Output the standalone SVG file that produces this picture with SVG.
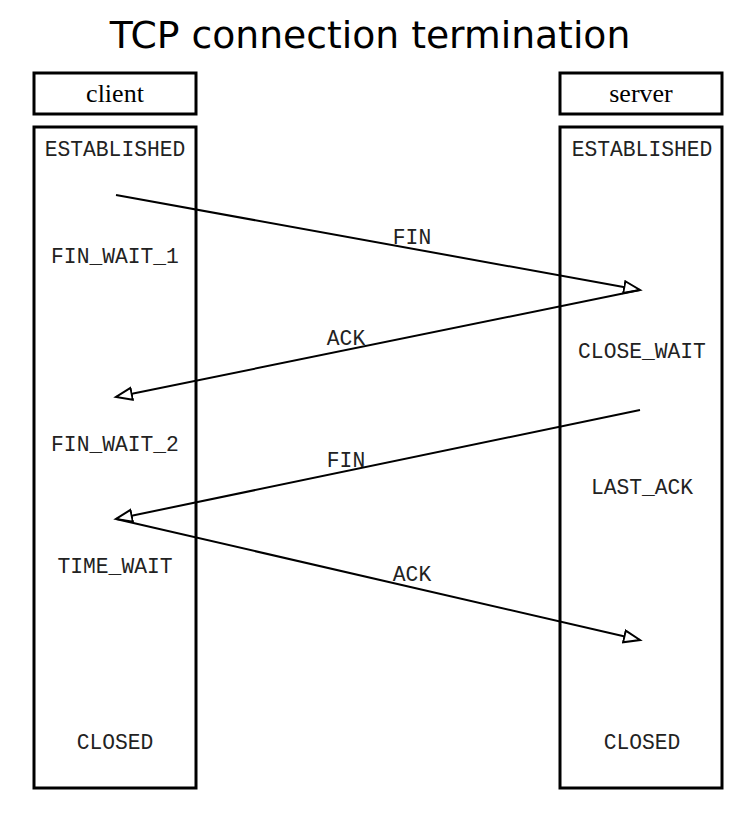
<svg xmlns="http://www.w3.org/2000/svg" width="755" height="814" viewBox="0 0 755 814">
<style>
.box{fill:#fff;stroke:#000;stroke-width:3}
.lbl{font-family:"Liberation Serif",serif;font-size:26px;text-anchor:middle}
.st{font-family:"Liberation Mono",monospace;font-size:21.3px;text-anchor:middle;fill:#222}
.msg{stroke:#000;stroke-width:2;fill:none;marker-end:url(#arr)}
.title{font-family:"DejaVu Sans",sans-serif;font-size:37.7px;text-anchor:middle}
</style>
<defs>
<marker id="arr" markerWidth="20" markerHeight="16" refX="17" refY="7" orient="auto" markerUnits="userSpaceOnUse">
<path d="M1,1 L17,7 L1,13 Z" fill="#fff" stroke="#000" stroke-width="2"/>
</marker>
</defs>
<rect width="755" height="814" fill="#fff"/>
<text class="title" x="370" y="48">TCP connection termination</text>
<g id="client">
<rect class="box" x="34" y="73" width="162" height="41"/>
<text class="lbl" x="115" y="102">client</text>
<rect class="box" x="34" y="127" width="162" height="661"/>
<text class="st" x="115" y="156">ESTABLISHED</text>
<text class="st" x="115" y="263">FIN_WAIT_1</text>
<text class="st" x="115" y="451">FIN_WAIT_2</text>
<text class="st" x="115" y="573">TIME_WAIT</text>
<text class="st" x="115" y="749">CLOSED</text>
</g>
<g id="server">
<rect class="box" x="560" y="73" width="162" height="41"/>
<text class="lbl" x="641" y="102">server</text>
<rect class="box" x="560" y="127" width="162" height="661"/>
<text class="st" x="642" y="156">ESTABLISHED</text>
<text class="st" x="642" y="358">CLOSE_WAIT</text>
<text class="st" x="642" y="494">LAST_ACK</text>
<text class="st" x="642" y="749">CLOSED</text>
</g>
<g id="connectors">
<line class="msg" x1="116" y1="195" x2="640" y2="290"/>
<line class="msg" x1="640" y1="290" x2="116" y2="397"/>
<line class="msg" x1="640" y1="410" x2="116" y2="519"/>
<line class="msg" x1="116" y1="519" x2="640" y2="640"/>
<text class="st" x="412" y="244">FIN</text>
<text class="st" x="346" y="345">ACK</text>
<text class="st" x="346" y="467">FIN</text>
<text class="st" x="412" y="581">ACK</text>
</g>
</svg>
